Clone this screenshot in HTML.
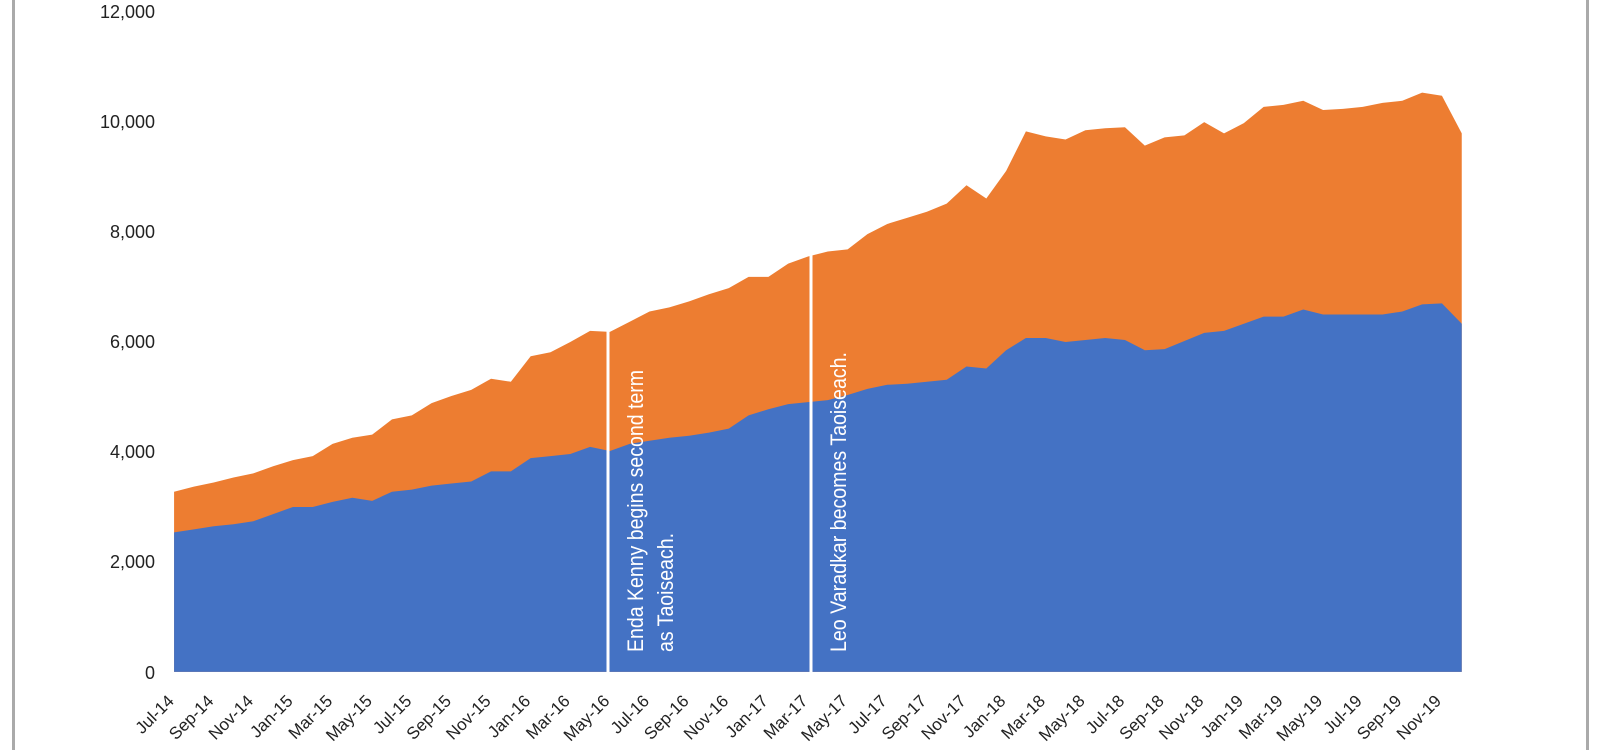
<!DOCTYPE html>
<html><head><meta charset="utf-8"><style>
html,body{margin:0;padding:0;background:#fff;}
svg{display:block;font-family:"Liberation Sans",sans-serif;}
</style></head><body>
<svg width="1600" height="750" viewBox="0 0 1600 750">
<rect x="12" y="0" width="3" height="750" fill="#aaa"/>
<rect x="1586" y="0" width="3" height="750" fill="#aaa"/>
<g transform="scale(1.018)">
<g transform="translate(171,0) scale(19.46,1)">
<polygon fill="#ED7D31" points="0,660 0,483 1,478 2,474 3,469 4,465 5,458 6,452 7,448 8,436 9,430 10,427 11,412 12,408 13,396 14,389 15,383 16,372 17,375 18,350 19,346 20,336 21,325 22,326 23,316 24,306 25,302 26,296 27,289 28,283 29,272 30,272 31,259 32,252 33,247 34,245 35,230 36,220 37,214 38,208 39,200 40,182 41,195 42,168 43,129 44,134 45,137 46,128 47,126 48,125 49,143 50,135 51,133 52,120 53,131 54,121 55,105 56,103 57,99 58,108 59,107 60,105 61,101 62,99 63,91 64,94 65,131 65,660"/>
<polygon fill="#4472C4" points="0,660 0,523 1,520 2,517 3,515 4,512 5,505 6,498 7,498 8,493 9,489 10,492 11,483 12,481 13,477 14,475 15,473 16,463 17,463 18,450 19,448 20,446 21,439 22,443 23,436 24,433 25,430 26,428 27,425 28,421 29,408 30,402 31,397 32,395 33,393 34,388 35,382 36,378 37,377 38,375 39,373 40,360 41,362 42,344 43,332 44,332 45,336 46,334 47,332 48,334 49,344 50,343 51,335 52,327 53,325 54,318 55,311 56,311 57,304 58,309 59,309 60,309 61,309 62,306 63,299 64,298 65,318 65,660"/>
</g>
</g>
<rect x="606.5" y="331" width="3" height="341" fill="#fff"/>
<rect x="809.5" y="250" width="3" height="422" fill="#fff"/>
<g fill="#fff" font-family="'Liberation Sans Narrow','Liberation Sans',sans-serif" font-size="22">
<text transform="translate(643,652) rotate(-90)" textLength="282" lengthAdjust="spacingAndGlyphs">Enda Kenny begins second term</text>
<text transform="translate(673,652) rotate(-90)" textLength="119" lengthAdjust="spacingAndGlyphs">as Taoiseach.</text>
<text transform="translate(846,652) rotate(-90)" textLength="300" lengthAdjust="spacingAndGlyphs">Leo Varadkar becomes Taoiseach.</text>
</g>
<g fill="#222" font-size="18" text-anchor="end">
<text x="155" y="18">12,000</text>
<text x="155" y="128">10,000</text>
<text x="155" y="238">8,000</text>
<text x="155" y="348">6,000</text>
<text x="155" y="458">4,000</text>
<text x="155" y="568">2,000</text>
<text x="155" y="679">0</text>
</g>
<g fill="#222" font-size="17" text-anchor="end">
<text transform="translate(175,702) rotate(-45)">Jul-14</text>
<text transform="translate(214.6,702) rotate(-45)">Sep-14</text>
<text transform="translate(254.2,702) rotate(-45)">Nov-14</text>
<text transform="translate(293.8,702) rotate(-45)">Jan-15</text>
<text transform="translate(333.4,702) rotate(-45)">Mar-15</text>
<text transform="translate(373.0,702) rotate(-45)">May-15</text>
<text transform="translate(412.6,702) rotate(-45)">Jul-15</text>
<text transform="translate(452.2,702) rotate(-45)">Sep-15</text>
<text transform="translate(491.8,702) rotate(-45)">Nov-15</text>
<text transform="translate(531.4,702) rotate(-45)">Jan-16</text>
<text transform="translate(571.0,702) rotate(-45)">Mar-16</text>
<text transform="translate(610.6,702) rotate(-45)">May-16</text>
<text transform="translate(650.2,702) rotate(-45)">Jul-16</text>
<text transform="translate(689.8,702) rotate(-45)">Sep-16</text>
<text transform="translate(729.4,702) rotate(-45)">Nov-16</text>
<text transform="translate(769.0,702) rotate(-45)">Jan-17</text>
<text transform="translate(808.6,702) rotate(-45)">Mar-17</text>
<text transform="translate(848.2,702) rotate(-45)">May-17</text>
<text transform="translate(887.8,702) rotate(-45)">Jul-17</text>
<text transform="translate(927.4,702) rotate(-45)">Sep-17</text>
<text transform="translate(967.0,702) rotate(-45)">Nov-17</text>
<text transform="translate(1006.6,702) rotate(-45)">Jan-18</text>
<text transform="translate(1046.2,702) rotate(-45)">Mar-18</text>
<text transform="translate(1085.8,702) rotate(-45)">May-18</text>
<text transform="translate(1125.4,702) rotate(-45)">Jul-18</text>
<text transform="translate(1165.0,702) rotate(-45)">Sep-18</text>
<text transform="translate(1204.6,702) rotate(-45)">Nov-18</text>
<text transform="translate(1244.2,702) rotate(-45)">Jan-19</text>
<text transform="translate(1283.8,702) rotate(-45)">Mar-19</text>
<text transform="translate(1323.4,702) rotate(-45)">May-19</text>
<text transform="translate(1363.0,702) rotate(-45)">Jul-19</text>
<text transform="translate(1402.6,702) rotate(-45)">Sep-19</text>
<text transform="translate(1442.2,702) rotate(-45)">Nov-19</text>
</g>
</svg>
</body></html>
